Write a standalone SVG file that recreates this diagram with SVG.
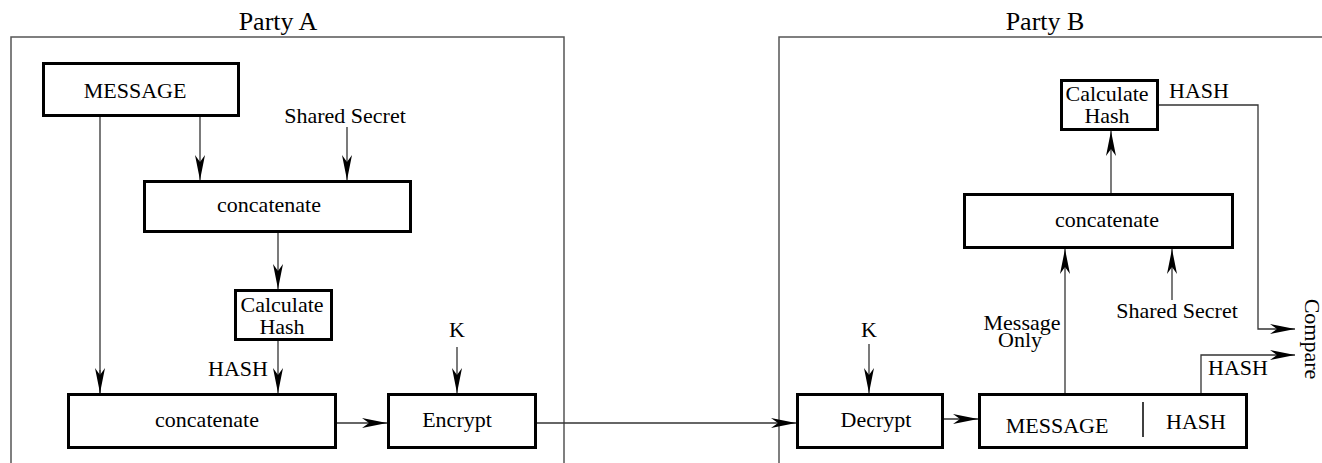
<svg xmlns="http://www.w3.org/2000/svg" width="1322" height="463" viewBox="0 0 1322 463">
<style>
text{font-family:"Liberation Serif","Times New Roman",serif;font-size:22px;fill:#000;text-anchor:middle}
.title{font-size:26px}
.box{fill:#fff;stroke:#000;stroke-width:3}
.frame{fill:none;stroke:#555;stroke-width:1.5}
.conn{fill:none;stroke:#333;stroke-width:1.3}
.arr{marker-end:url(#ah)}
</style>
<defs>
<marker id="ah" markerUnits="userSpaceOnUse" viewBox="-27 -6 28 12" refX="0" refY="0" markerWidth="28" markerHeight="12" orient="auto">
<path d="M0,0 L-25,-5 L-18,0 L-25,5 Z" fill="#000"/>
</marker>
</defs>
<rect width="1322" height="463" fill="#fff"/>

<g id="partyA">
<text class="title" x="278" y="30">Party A</text>
<path class="frame" d="M11,463 V37 H564 V463"/>
</g>
<g id="partyB">
<text class="title" x="1045" y="30">Party B</text>
<path class="frame" d="M779,463 V37 H1324"/>
</g>

<g id="connectors">
<path class="conn" d="M100,117 V393"/>
<path class="conn arr" d="M200,117 V180"/>
<path class="conn arr" d="M347,127 V180"/>
<path class="conn arr" d="M278,233 V289"/>
<path class="conn arr" d="M278,341 V393"/>
<path class="conn arr" d="M100,370 V393"/>
<path class="conn arr" d="M337,423 H387"/>
<path class="conn arr" d="M457,347 V393"/>
<path class="conn arr" d="M537,423 H796"/>
<path class="conn arr" d="M869,344 V393"/>
<path class="conn arr" d="M944,419 H978"/>
<path class="conn arr" d="M1065,393 V249"/>
<path class="conn arr" d="M1172,300 V249"/>
<path class="conn arr" d="M1111,193 V131"/>
<path class="conn arr" d="M1159,105 H1258 V329 H1295"/>
<path class="conn arr" d="M1201,393 V355 H1295"/>
</g>

<g id="messageA">
<rect class="box" x="43.5" y="63.5" width="195" height="52"/>
<text x="135" y="98">MESSAGE</text>
</g>
<g id="sharedSecretA">
<text x="345" y="123">Shared Secret</text>
</g>
<g id="concatA1">
<rect class="box" x="144.5" y="181.5" width="266" height="50"/>
<text x="269" y="212">concatenate</text>
</g>
<g id="calcHashA">
<rect class="box" x="235.5" y="290.5" width="96" height="49"/>
<text x="282" y="312">Calculate</text>
<text x="282" y="334">Hash</text>
</g>
<g id="hashLabelA">
<text x="238" y="376">HASH</text>
</g>
<g id="concatA2">
<rect class="box" x="68.5" y="394.5" width="267" height="53"/>
<text x="207" y="427">concatenate</text>
</g>
<g id="kA">
<text x="457" y="337">K</text>
</g>
<g id="encrypt">
<rect class="box" x="388.5" y="394.5" width="147" height="53"/>
<text x="457" y="427">Encrypt</text>
</g>

<g id="kB">
<text x="869" y="337">K</text>
</g>
<g id="decrypt">
<rect class="box" x="797.5" y="394.5" width="145" height="53"/>
<text x="876" y="427">Decrypt</text>
</g>
<g id="messageHash">
<rect class="box" x="979.5" y="394.5" width="267" height="53"/>
<line x1="1143" y1="402" x2="1143" y2="437" stroke="#000" stroke-width="1.5"/>
<text x="1057" y="433">MESSAGE</text>
<text x="1196" y="429">HASH</text>
</g>
<g id="messageOnly">
<text x="1022" y="330">Message</text>
<text x="1020" y="347">Only</text>
</g>
<g id="sharedSecretB">
<text x="1177" y="318">Shared Secret</text>
</g>
<g id="concatB">
<rect class="box" x="964.5" y="194.5" width="268" height="53"/>
<text x="1107" y="227">concatenate</text>
</g>
<g id="calcHashB">
<rect class="box" x="1061.5" y="80.5" width="96" height="49"/>
<text x="1107" y="101">Calculate</text>
<text x="1107" y="123">Hash</text>
</g>
<g id="hashLabelsB">
<text x="1199" y="98">HASH</text>
<text x="1238" y="375">HASH</text>
</g>
<g id="compare">
<text transform="translate(1305,339) rotate(90)">Compare</text>
</g>
</svg>
